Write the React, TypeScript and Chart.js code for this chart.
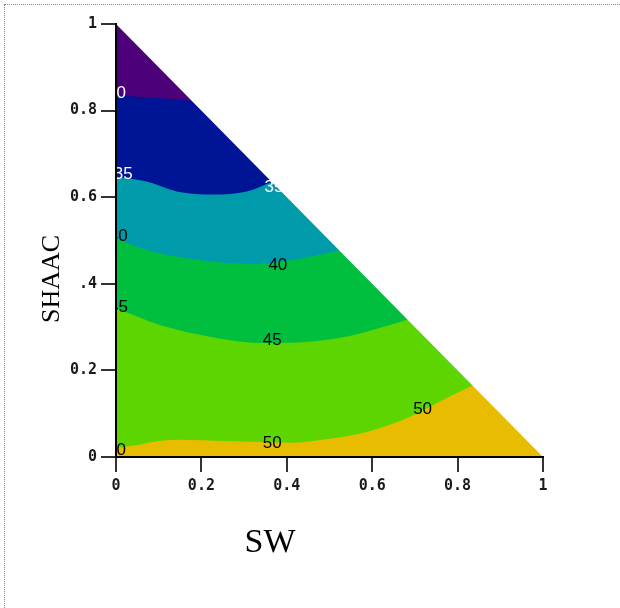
import React, { useEffect, useRef } from "react";
import { Chart, registerables } from "chart.js";
Chart.register(...registerables);

// Tick labels
const xTickLabels = ["0", "0.2", "0.4", "0.6", "0.8", "1"];
const yTickLabels = ["0", "0.2", ".4", "0.6", "0.8", "1"];

// Contour lines (SW, SHAAC) – each runs from the SHAAC axis to just past the hypotenuse
const c30X = [0, 0.05, 0.1, 0.177, 0.21];
const c30Y = [0.836, 0.832, 0.829, 0.823, 0.82];

const c35X = [0, 0.072, 0.142, 0.228, 0.306, 0.365, 0.4];
const c35Y = [0.647, 0.636, 0.613, 0.606, 0.613, 0.635, 0.648];

const c40X = [0, 0.05, 0.103, 0.22, 0.32, 0.415, 0.525, 0.57];
const c40Y = [0.505, 0.485, 0.47, 0.452, 0.445, 0.455, 0.478, 0.49];

const c45X = [0, 0.103, 0.22, 0.35, 0.45, 0.55, 0.625, 0.685, 0.73];
const c45Y = [0.344, 0.305, 0.278, 0.263, 0.266, 0.28, 0.3, 0.318, 0.332];

const c50X = [0, 0.05, 0.1, 0.15, 0.259, 0.415, 0.5, 0.587, 0.689, 0.766, 0.835, 0.88];
const c50Y = [0.021, 0.028, 0.037, 0.04, 0.037, 0.033, 0.042, 0.058, 0.093, 0.132, 0.165, 0.185];

// Contour labels
const labelTexts = ["30", "35", "35", "40", "40", "45", "45", "50", "50", "50"];
const labelX = [0.001, 0.017, 0.37, 0.005, 0.379, 0.006, 0.366, 0.001, 0.366, 0.718];
const labelY = [0.839, 0.654, 0.622, 0.51, 0.443, 0.345, 0.27, 0.016, 0.031, 0.109];
const labelLight = [true, true, true, false, false, false, false, false, false, false];

const bandColors = {
  above30: "#4C0079",
  c30_35: "#001496",
  c35_40: "#009BAB",
  c40_45: "#00BF3F",
  c45_50: "#5CD500",
  above50: "#E8BC00",
};

function pts(xs: number[], ys: number[]) {
  return xs.map((x, i) => ({ x, y: ys[i] }));
}

function area(data: { x: number; y: number }[], color: string, order: number) {
  return {
    data,
    fill: "end",
    backgroundColor: color,
    borderColor: "rgba(0,0,0,0)",
    borderWidth: 0,
    pointRadius: 0,
    pointHoverRadius: 0,
    cubicInterpolationMode: "monotone",
    order,
  };
}

export default function App() {
  const ref = useRef<HTMLCanvasElement | null>(null);

  useEffect(() => {
    if (!ref.current) return;

    const labelPlugin = {
      id: "contourLabels",
      afterDatasetDraw(chart: any, args: any) {
        if (args.index !== 6) return;
        const { ctx, chartArea, scales } = chart;
        ctx.save();
        ctx.beginPath();
        ctx.rect(chartArea.left, chartArea.top, chartArea.right - chartArea.left, chartArea.bottom - chartArea.top);
        ctx.clip();
        ctx.font = "17px 'Liberation Sans', Arial, sans-serif";
        ctx.textAlign = "center";
        ctx.textBaseline = "middle";
        labelTexts.forEach((t, i) => {
          ctx.fillStyle = labelLight[i] ? "#ffffff" : "#000000";
          ctx.fillText(t, scales.x.getPixelForValue(labelX[i]), scales.y.getPixelForValue(labelY[i]));
        });
        ctx.restore();
      },
    };

    const titlePlugin = {
      id: "axisTitles",
      afterDraw(chart: any) {
        const { ctx } = chart;
        ctx.save();
        ctx.fillStyle = "#000";
        ctx.font = "34px 'Liberation Serif', 'Times New Roman', serif";
        ctx.textAlign = "center";
        ctx.textBaseline = "alphabetic";
        ctx.fillText("SW", 270, 552);
        ctx.translate(59, 279);
        ctx.rotate(-Math.PI / 2);
        ctx.font = "26px 'Liberation Serif', 'Times New Roman', serif";
        ctx.fillText("SHAAC", 0, 0);
        ctx.restore();
      },
    };

    const tickFont = { family: "'DejaVu Sans Mono', monospace", size: 15, weight: "bold" };

    const chart = new Chart(ref.current, {
      type: "line",
      data: {
        datasets: [
          area(pts([0, 1], [0, 0]), bandColors.above50, 10) as any,
          area(pts(c50X, c50Y), bandColors.c45_50, 9) as any,
          area(pts(c45X, c45Y), bandColors.c40_45, 8) as any,
          area(pts(c40X, c40Y), bandColors.c35_40, 7) as any,
          area(pts(c35X, c35Y), bandColors.c30_35, 6) as any,
          area(pts(c30X, c30Y), bandColors.above30, 5) as any,
          area(pts([0, 1], [1, 0]), "#ffffff", 1) as any,
        ],
      },
      options: {
        animation: false,
        responsive: false,
        maintainAspectRatio: false,
        devicePixelRatio: 1,
        layout: { padding: { top: 24, right: 77, left: 0, bottom: 0 } },
        plugins: {
          legend: { display: false },
          tooltip: { enabled: false },
        },
        events: [],
        scales: {
          x: {
            type: "linear",
            min: 0,
            max: 1,
            position: "bottom",
            ticks: {
              stepSize: 0.2,
              autoSkip: false,
              maxRotation: 0,
              padding: 5,
              color: "#1a1a1a",
              font: tickFont,
              callback: (_v: any, i: number) => xTickLabels[i],
            },
            grid: { display: true, drawOnChartArea: false, drawTicks: true, tickLength: 15, color: "#333", lineWidth: 2, z: 1 },
            border: { display: true, color: "#000", width: 2, z: 1 },
            afterFit: (s: any) => {
              s.height = 151;
            },
          },
          y: {
            type: "linear",
            min: 0,
            max: 1,
            position: "left",
            ticks: {
              stepSize: 0.2,
              autoSkip: false,
              padding: 4,
              color: "#1a1a1a",
              font: tickFont,
              callback: (_v: any, i: number) => yTickLabels[i],
            },
            grid: { display: true, drawOnChartArea: false, drawTicks: true, tickLength: 15, color: "#333", lineWidth: 2, z: 1 },
            border: { display: true, color: "#000", width: 2, z: 1 },
            afterFit: (s: any) => {
              s.width = 116;
            },
          },
        },
      } as any,
      plugins: [labelPlugin, titlePlugin],
    });

    return () => chart.destroy();
  }, []);

  return (
    <div style={{ position: "absolute", left: 0, top: 0, width: 620, height: 608, background: "#fff" }}>
      <div
        style={{
          position: "absolute",
          left: 4,
          top: 4,
          right: 0,
          bottom: 0,
          borderTop: "1px dotted #888",
          borderLeft: "1px dotted #888",
        }}
      />
      <canvas ref={ref} width={620} height={608} style={{ position: "absolute", left: 0, top: 0 }} />
    </div>
  );
}
